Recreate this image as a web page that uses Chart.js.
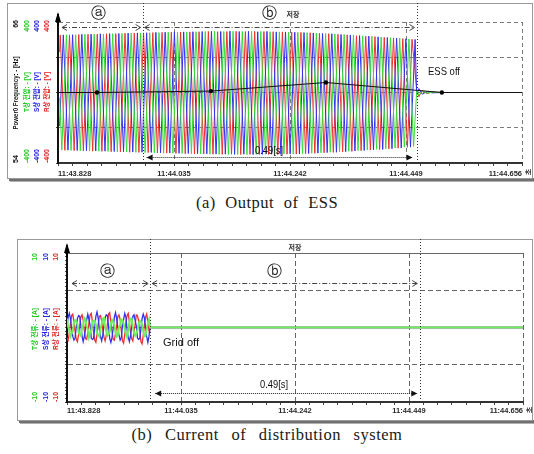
<!DOCTYPE html>
<html><head><meta charset="utf-8">
<script src="https://cdn.jsdelivr.net/npm/chart.js@4.4.1/dist/chart.umd.min.js"></script>
<style>
html,body{margin:0;padding:0;background:#fff;}
body{width:534px;height:454px;position:relative;overflow:hidden}
canvas{position:absolute;left:0}
.cap{position:absolute;left:0;width:534px;text-align:center;font-family:"Liberation Serif","DejaVu Serif",serif;color:#1a1a1a;font-size:16.5px;line-height:18px;letter-spacing:0.5px;white-space:nowrap}
</style></head>
<body>
<canvas id="ca" width="534" height="186" style="top:0"></canvas>
<div class="cap" style="top:194px;word-spacing:5px">(a) Output of ESS</div>
<canvas id="cb" width="534" height="194" style="top:230px"></canvas>
<div class="cap" style="top:426px;word-spacing:8px">(b) Current of distribution system</div>
<script>
// ================= DATA =================
// time axis: seconds after 11:43.828
const X_TICK_LABELS = ['11:43.828','11:44.035','11:44.242','11:44.449','11:44.656'];
const X_MAJOR_S = [0, 0.207, 0.414, 0.621, 0.828];
const X_MINOR_DIV = 8;
const CURSOR_S = [0.151, 0.6415];           // the two measurement cursors
const GAP_LABEL = '0.49[s]';

// (a) frequency (Hz)
const FREQ_T  = [0, 0.0696, 0.273, 0.478, 0.685, 0.828];
const FREQ_HZ = [60.0, 60.0, 60.12, 60.85, 60.0, 60.0];
const FREQ_DOT = [0, 1, 1, 1, 1, 0];

// (a) phase voltages (V): start value, then successive peaks/troughs, then decay after ESS off
const V_START_T = 0.003, V_FIRST_T = 0.004, V_HALF_S = 0.00826;
const V_R_START = 230, V_S_START = -190, V_T_START = -30;
const V_R = [326,-328,327,-330,329,-331,330,-333,331,-334,
             333,-336,334,-337,336,-339,337,-340,338,-341,
             340,-343,341,-344,342,-346,343,-347,344,-348,
             345,-349,346,-350,345,-351,346,-350,347,-352,
             346,-351,347,-352,346,-351,345,-352,344,-350,
             343,-349,341,-347,339,-345,336,-342,334,-340,
             330,-337,327,-334,322,-330,319,-327,317,-324,
             313,-320,310,-316,306,-311,302];
const V_S = [327,-327,328,-329,330,-330,331,-332,333,-333,
             334,-335,335,-336,337,-338,338,-339,339,-340,
             341,-342,342,-343,344,-345,344,-346,345,-347,
             346,-348,347,-349,346,-350,348,-351,346,-350,
             347,-352,345,-351,347,-350,344,-351,343,-349,
             342,-348,340,-346,338,-344,335,-341,333,-339,
             329,-336,326,-332,323,-329,320,-326,316,-323,
             312,-319,309,-315,305,-310,301];
const V_T = [-327,328,-329,328,-331,330,-332,331,-333,332,
             -335,334,-336,335,-338,337,-339,338,-341,339,
             -342,340,-344,342,-345,343,-346,344,-348,345,
             -349,346,-350,347,-351,346,-352,347,-351,346,
             -352,346,-351,347,-350,345,-351,344,-349,342,
             -348,342,-346,340,-344,337,-342,335,-339,332,
             -336,329,-333,326,-329,322,-326,319,-322,315,
             -319,311,-315,308,-310,304,-306];
const V_TAIL_T = [0.640, 0.644, 0.650, 0.658, 0.668, 0.685, 0.828];
const V_R_TAIL = [18, -24, 12, -6, 3, 0, 0];
const V_S_TAIL = [-14, 22, -10, 5, -2, 0, 0];
const V_T_TAIL = [8, -16, 9, -4, 2, 0, 0];

// (b) phase currents (A), sampled every I_STEP_S until grid off, then zero
const I_STEP_S = 0.151 / 72;
const I_S = [0.2,1.4,1.9,1.2,-0.1,-1.2,-1.7,-1.4,
             0.1,1.2,1.6,1.5,0.2,-1.1,-1.9,-1.2,
             -0.2,1.0,1.8,1.1,0.3,-1.4,-1.6,-1.5,
             0.0,1.5,2.1,1.3,-0.2,-1.2,-1.8,-1.0,
             0.3,1.3,1.7,1.6,0.1,-1.5,-2.0,-1.3,
             -0.1,1.4,2.0,1.2,0.0,-1.0,-1.7,-1.4,
             0.2,1.1,1.9,1.4,-0.3,-1.3,-1.9,-1.1,
             0.1,1.5,1.7,1.0,0.2,-1.4,-1.6,-1.5,
             -0.2,1.2,1.8,1.3,0.0,-1.2,-2.0,-1.2,0.0];
const I_R = [-1.4,-1.7,-0.8,0.5,1.6,1.8,0.7,-0.5,
             -1.6,-1.9,-1.0,0.3,1.4,1.7,1.0,-0.4,
             -1.5,-1.6,-0.7,0.6,1.7,1.9,0.8,-0.6,
             -1.7,-2.0,-0.9,0.4,1.5,1.6,0.9,-0.3,
             -1.3,-1.8,-1.1,0.5,1.8,2.0,0.6,-0.5,
             -1.6,-1.7,-0.8,0.2,1.5,1.7,1.1,-0.4,
             -1.8,-2.1,-1.0,0.6,1.6,1.9,0.8,-0.7,
             -1.5,-1.8,-0.6,0.4,1.7,1.6,0.9,-0.5,
             -1.9,-2.2,-1.1,0.3,1.4,1.8,0.7,-0.4,0.0];
const I_T = [1.2,0.1,-0.4,-1.2,-0.8,-0.5,0.7,1.0,
             0.8,0.5,-0.7,-0.9,-1.1,-0.1,0.4,1.3,
             1.1,0.2,-0.3,-1.3,-0.7,-0.4,0.8,0.9,
             0.9,0.4,-0.8,-1.0,-1.2,-0.2,0.5,1.2,
             1.3,0.0,-0.5,-1.1,-0.9,-0.6,0.6,1.0,
             0.7,0.3,-0.6,-1.2,-1.0,0.0,0.3,1.1,
             1.0,0.5,-0.2,-0.9,-1.3,-0.3,0.7,1.2,
             1.2,0.1,-0.7,-1.1,-0.8,-0.4,0.5,0.9,
             0.8,0.4,-0.5,-1.2,-1.1,-0.2,0.6,1.1,0.0];
const I_END_T = 0.828;

const V_TICKS = [-400, -200, 0, 200, 400];
const F_MIN = 54, F_MAX = 66;
const I_TICKS = [-10, -5, 0, 5, 10];

// ================= HELPERS =================
const RED = '#ee3030', BLUE = '#3030ee', GREEN = '#34dc34', GREENB = '#6cf05a';
const SANS = '"Liberation Sans","Noto Sans CJK KR","DejaVu Sans",sans-serif';
const CJK = '"Noto Sans CJK KR","Liberation Sans",sans-serif';

const X_TICKS = [];
for (let m = 0; m < X_MAJOR_S.length - 1; m++)
  for (let j = 0; j < X_MINOR_DIV; j++)
    X_TICKS.push(X_MAJOR_S[m] + j * (X_MAJOR_S[m + 1] - X_MAJOR_S[m]) / X_MINOR_DIV);
X_TICKS.push(X_MAJOR_S[X_MAJOR_S.length - 1]);

function wave(startVal, vals, offset, tail) {
  const pts = [{x: V_START_T, y: startVal}];
  vals.forEach((v, k) => pts.push({x: V_FIRST_T + offset + k * V_HALF_S, y: v}));
  V_TAIL_T.forEach((t, i) => pts.push({x: t, y: tail[i]}));
  return pts;
}
function cur(vals) {
  const p = vals.map((v, i) => ({x: i * I_STEP_S, y: v}));
  p.push({x: I_END_T, y: 0});
  return p;
}

function txt(ctx, s, x, y, o = {}) {
  const {size = 11, weight = 'normal', family = SANS, color = '#111', align = 'left', base = 'middle', fit = 0, rot = 0} = o;
  ctx.save(); ctx.translate(x, y); if (rot) ctx.rotate(rot);
  ctx.font = `${weight} ${size}px ${family}`; ctx.fillStyle = color;
  ctx.textAlign = align; ctx.textBaseline = base;
  if (fit) { const w = ctx.measureText(s).width; if (w > 0) ctx.scale(fit / w, 1); }
  ctx.fillText(s, 0, 0); ctx.restore();
}
function frame(ctx, l, t, r, b) {
  ctx.save();
  ctx.fillStyle = '#707070'; ctx.fillRect(l + 2, b, r - l + 1, 3);
  ctx.fillStyle = '#b0b0b0'; ctx.fillRect(l + 3, b + 3, r - l, 1);
  ctx.strokeStyle = '#9a9a9a'; ctx.lineWidth = 1; ctx.strokeRect(l + 0.5, t + 0.5, r - l, b - t);
  ctx.restore();
}
function vline(ctx, x, y1, y2) {
  ctx.save(); ctx.strokeStyle = '#333'; ctx.lineWidth = 1; ctx.setLineDash([1, 2]);
  ctx.beginPath(); ctx.moveTo(Math.round(x) + 0.5, y1); ctx.lineTo(Math.round(x) + 0.5, y2); ctx.stroke(); ctx.restore();
}
function chevron(ctx, x, y, dir) {
  ctx.beginPath(); ctx.moveTo(x - dir * 5, y - 3); ctx.lineTo(x, y); ctx.lineTo(x - dir * 5, y + 3); ctx.stroke();
}
function dashArrow(ctx, x1, x2, y) {
  ctx.save(); ctx.strokeStyle = '#444'; ctx.lineWidth = 1;
  y = Math.round(y) + 0.5;
  ctx.setLineDash([5, 2, 1, 2]);
  ctx.beginPath(); ctx.moveTo(x1, y); ctx.lineTo(x2, y); ctx.stroke();
  ctx.setLineDash([]);
  chevron(ctx, x1, y, -1); chevron(ctx, x2, y, 1);
  ctx.restore();
}
function dotArrow(ctx, x1, x2, y) {
  ctx.save(); ctx.strokeStyle = '#222'; ctx.fillStyle = '#111'; ctx.lineWidth = 1;
  y = Math.round(y) + 0.5;
  ctx.setLineDash([1, 1]);
  ctx.beginPath(); ctx.moveTo(x1, y); ctx.lineTo(x2, y); ctx.stroke();
  ctx.setLineDash([]);
  ctx.beginPath(); ctx.moveTo(x1, y); ctx.lineTo(x1 + 6, y - 3); ctx.lineTo(x1 + 6, y + 3); ctx.closePath(); ctx.fill();
  ctx.beginPath(); ctx.moveTo(x2, y); ctx.lineTo(x2 - 6, y - 3); ctx.lineTo(x2 - 6, y + 3); ctx.closePath(); ctx.fill();
  ctx.restore();
}
function axisArrow(ctx, x, yTip, yBase) {
  ctx.save(); ctx.fillStyle = '#000';
  ctx.beginPath(); ctx.moveTo(x, yTip); ctx.lineTo(x - 3, yBase); ctx.lineTo(x + 3, yBase); ctx.closePath(); ctx.fill();
  ctx.fillRect(x - 1, yTip + 2, 2, yBase - yTip + 2);
  ctx.restore();
}

function xScale(boxH, labelPad, gridColor, dash) {
  return {
    type: 'linear', min: X_MAJOR_S[0], max: X_MAJOR_S[X_MAJOR_S.length - 1],
    afterBuildTicks: s => { s.ticks = X_TICKS.map(v => ({value: v})); },
    afterFit: s => { s.height = boxH; },
    ticks: {
      autoSkip: false, maxRotation: 0, minRotation: 0, align: 'inner', padding: labelPad, color: '#2a2a2a',
      font: {family: SANS, size: 7.5, weight: 'bold'},
      callback: (v, i) => (i % X_MINOR_DIV === 0 ? X_TICK_LABELS[i / X_MINOR_DIV] : '')
    },
    grid: {
      color: c => (c.index % X_MINOR_DIV === 0 && c.index > 0) ? gridColor : 'rgba(0,0,0,0)',
      tickLength: 3, tickColor: '#444', lineWidth: 1
    },
    border: {display: true, color: '#333', width: 2, dash: dash}
  };
}
function yScale(ticks, minorTicks, gridColor, dashFn) {
  return {
    type: 'linear', position: 'left', min: ticks[0], max: ticks[ticks.length - 1],
    afterBuildTicks: s => { s.ticks = minorTicks.map(v => ({value: v})); },
    afterFit: s => { s.width = 0; },
    ticks: {display: false},
    grid: {
      color: c => {
        const v = c.tick ? c.tick.value : null;
        return (ticks.includes(v) && v !== ticks[0]) ? gridColor : 'rgba(0,0,0,0)';
      },
      tickLength: c => (c.tick && ticks.includes(c.tick.value)) ? 3 : 2,
      tickColor: '#444', lineWidth: 1
    },
    border: {display: true, color: '#111', width: 2, dash: dashFn}
  };
}

Chart.defaults.font.family = SANS;

// ================= CHART (a) =================
const decoA = {
  id: 'decoA',
  beforeDraw(chart) {
    frame(chart.ctx, 7, 3, 532, 178);
  },
  afterDraw(chart) {
    const ctx = chart.ctx, a = chart.chartArea, xs = chart.scales.x;
    const c1 = xs.getPixelForValue(CURSOR_S[0]), c2 = xs.getPixelForValue(CURSOR_S[1]);
    vline(ctx, c1, 3, a.bottom); vline(ctx, c2, 3, a.bottom);
    dashArrow(ctx, a.left + 4, c1 - 2, 27);
    dashArrow(ctx, c1 + 2, c2 - 3, 27);
    dotArrow(ctx, c1 + 4, c2 - 5, 157);
    txt(ctx, 'ⓐ', 98, 14, {size: 15, family: '"DejaVu Sans",sans-serif', align: 'center', color: '#222'});
    txt(ctx, 'ⓑ', 269, 14, {size: 15, family: '"DejaVu Sans",sans-serif', align: 'center', color: '#222'});
    txt(ctx, '저장', 293, 14, {size: 7, weight: 'bold', family: CJK, align: 'center', color: '#333'});
    txt(ctx, 'ESS off', 428, 72, {size: 11, fit: 32, color: '#111'});
    txt(ctx, GAP_LABEL, 255, 151, {size: 11, fit: 28, color: '#111'});
    axisArrow(ctx, a.left, 12, 22);
    const R = -Math.PI / 2;
    const lab = [['66', 16, '#111'], ['400', 27, '#22c822'], ['400', 37, '#2222e0'], ['400', 47, '#e02222']];
    lab.forEach(([s, x, c]) => txt(ctx, s, x, 20, {size: 7, weight: 'bold', color: c, rot: R, align: 'right'}));
    const labB = [['54', 16, '#111'], ['-400', 27, '#22c822'], ['-400', 37, '#2222e0'], ['-400', 47, '#e02222']];
    labB.forEach(([s, x, c]) => txt(ctx, s, x, 163, {size: 7, weight: 'bold', color: c, rot: R, align: 'left'}));
    txt(ctx, 'Power0 Frequency: - [Hz]', 16, 93, {size: 7, weight: 'bold', color: '#111', rot: R, align: 'center', fit: 73});
    txt(ctx, 'T상 전압: - [V]', 27, 92, {size: 7, weight: 'bold', color: '#22c822', rot: R, align: 'center', fit: 40});
    txt(ctx, 'S상 전압: - [V]', 37, 92, {size: 7, weight: 'bold', color: '#2222e0', rot: R, align: 'center', fit: 40});
    txt(ctx, 'R상 전압: - [V]', 47, 92, {size: 7, weight: 'bold', color: '#e02222', rot: R, align: 'center', fit: 40});
    txt(ctx, '초', 528, 172, {size: 7, weight: 'bold', family: CJK, color: '#333', rot: R, align: 'center'});
  }
};

new Chart(document.getElementById('ca'), {
  type: 'line',
  data: {
    datasets: [
      {label: 'Power0 Frequency', data: FREQ_T.map((t, i) => ({x: t, y: FREQ_HZ[i]})), yAxisID: 'yF',
       borderColor: '#111', borderWidth: 1, pointRadius: FREQ_DOT.map(d => d ? 2.2 : 0),
       pointBackgroundColor: '#000', pointBorderWidth: 0},
      {label: 'T상 전압', data: wave(V_T_START, V_T, V_HALF_S / 3, V_T_TAIL), yAxisID: 'yV',
       borderColor: GREEN, borderWidth: 1, pointRadius: 0},
      {label: 'S상 전압', data: wave(V_S_START, V_S, 2 * V_HALF_S / 3, V_S_TAIL), yAxisID: 'yV',
       borderColor: BLUE, borderWidth: 1, pointRadius: 0},
      {label: 'R상 전압', data: wave(V_R_START, V_R, 0, V_R_TAIL), yAxisID: 'yV',
       borderColor: RED, borderWidth: 1, pointRadius: 0}
    ]
  },
  options: {
    responsive: false, animation: false, events: [],
    layout: {padding: {left: 58, top: 22, right: 12, bottom: 3}, autoPadding: false},
    plugins: {legend: {display: false}, tooltip: {enabled: false}},
    elements: {line: {tension: 0}},
    scales: {
      x: xScale(20, 3, '#7a7a7a', [4, 3]),
      yV: yScale(V_TICKS, V_TICKS, '#7a7a7a', [4, 3]),
      yF: {type: 'linear', display: false, min: F_MIN, max: F_MAX}
    }
  },
  plugins: [decoA]
});

// ================= CHART (b) =================
const I_MINOR = [];
for (let v = I_TICKS[0]; v <= I_TICKS[I_TICKS.length - 1] + 1e-9; v += 0.5) I_MINOR.push(Math.round(v * 10) / 10);

const decoB = {
  id: 'decoB',
  beforeDraw(chart) {
    frame(chart.ctx, 17, 9, 532, 190);
  },
  afterDraw(chart) {
    const ctx = chart.ctx, a = chart.chartArea, xs = chart.scales.x;
    const c1 = xs.getPixelForValue(CURSOR_S[0]), c2 = xs.getPixelForValue(CURSOR_S[1]);
    vline(ctx, c1, 9, a.bottom); vline(ctx, c2, 9, a.bottom);
    dashArrow(ctx, a.left + 5, c1 - 2, 53);
    dashArrow(ctx, c1 + 2, c2 - 3, 53);
    dotArrow(ctx, c1 + 5, c2 - 3, 163);
    txt(ctx, 'ⓐ', 107, 42, {size: 15, family: '"DejaVu Sans",sans-serif', align: 'center', color: '#222'});
    txt(ctx, 'ⓑ', 274, 42, {size: 15, family: '"DejaVu Sans",sans-serif', align: 'center', color: '#222'});
    txt(ctx, '저장', 295, 17, {size: 7, weight: 'bold', family: CJK, align: 'center', color: '#333'});
    txt(ctx, 'Grid off', 163, 113, {size: 11, fit: 36, color: '#111'});
    txt(ctx, GAP_LABEL, 260, 155, {size: 11, fit: 28, color: '#111'});
    axisArrow(ctx, a.left, 13, 23);
    const R = -Math.PI / 2;
    const lab = [['10', 35, '#22c822'], ['10', 46, '#2222e0'], ['10', 56, '#e02222']];
    lab.forEach(([s, x, c]) => txt(ctx, s, x, 23, {size: 7, weight: 'bold', color: c, rot: R, align: 'right'}));
    const labB = [['-10', 35, '#22c822'], ['-10', 46, '#2222e0'], ['-10', 56, '#e02222']];
    labB.forEach(([s, x, c]) => txt(ctx, s, x, 172, {size: 7, weight: 'bold', color: c, rot: R, align: 'left'}));
    txt(ctx, 'T상 전류: - [A]', 35, 99, {size: 7, weight: 'bold', color: '#22c822', rot: R, align: 'center', fit: 42});
    txt(ctx, 'S상 전류: - [A]', 46, 99, {size: 7, weight: 'bold', color: '#2222e0', rot: R, align: 'center', fit: 42});
    txt(ctx, 'R상 전류: - [A]', 56, 99, {size: 7, weight: 'bold', color: '#e02222', rot: R, align: 'center', fit: 42});
    txt(ctx, '초', 529, 180, {size: 7, weight: 'bold', family: CJK, color: '#333', rot: R, align: 'center'});
  }
};

new Chart(document.getElementById('cb'), {
  type: 'line',
  data: {
    datasets: [
      {label: 'T상 전류', data: cur(I_T), yAxisID: 'yI', borderColor: GREENB, borderWidth: 2, pointRadius: 0},
      {label: 'S상 전류', data: cur(I_S), yAxisID: 'yI', borderColor: BLUE, borderWidth: 1.3, pointRadius: 0},
      {label: 'R상 전류', data: cur(I_R), yAxisID: 'yI', borderColor: RED, borderWidth: 1.3, pointRadius: 0}
    ]
  },
  options: {
    responsive: false, animation: false, events: [],
    layout: {padding: {left: 67, top: 23, right: 11, bottom: 2}, autoPadding: false},
    plugins: {legend: {display: false}, tooltip: {enabled: false}},
    elements: {line: {tension: 0}},
    scales: {
      x: xScale(20, 1, '#666', [5, 3]),
      yI: yScale(I_TICKS, I_MINOR, '#666', c => (c.tick && c.tick.value === I_TICKS[I_TICKS.length - 1]) ? [] : [5, 3])
    }
  },
  plugins: [decoB]
});
</script>
</body></html>
